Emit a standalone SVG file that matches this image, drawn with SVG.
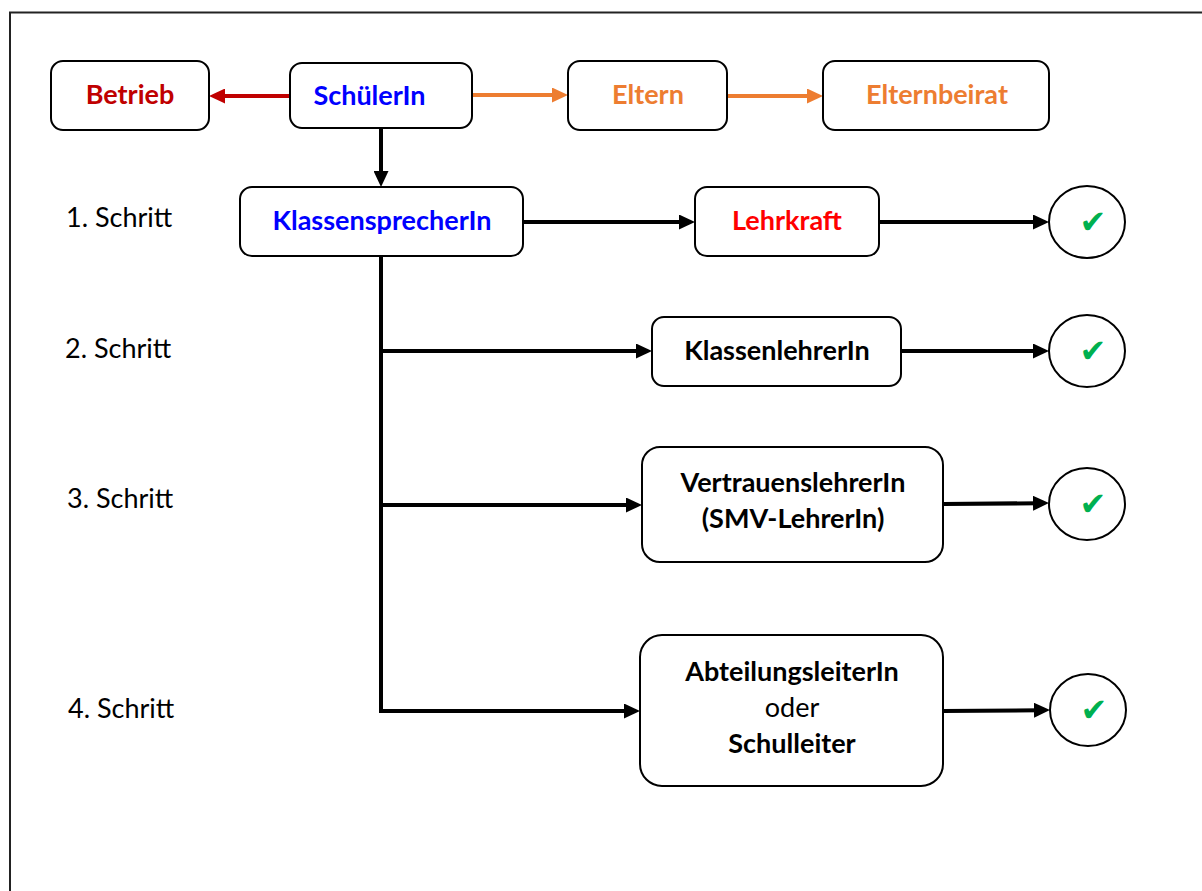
<svg xmlns="http://www.w3.org/2000/svg" width="1202" height="891" viewBox="0 0 1202 891">
<style>
.box{fill:#fff;stroke:#000;stroke-width:2}
.lbl{font-family:Lato,"Open Sans","Liberation Sans",sans-serif;font-size:27px;font-weight:bold;text-anchor:middle}
.reg{font-family:Lato,"Open Sans","Liberation Sans",sans-serif;font-size:27px;font-weight:normal}
.step{font-family:Lato,"Open Sans","Liberation Sans",sans-serif;font-size:27px;fill:#000}
.ok{fill:#fff;stroke:#000;stroke-width:2}
.chk{font-family:"DejaVu Sans",sans-serif;font-size:32px;fill:#00B050;text-anchor:middle}
.c{fill:none;stroke:#000;stroke-width:4}
.cr{fill:none;stroke:#C00000;stroke-width:4}
.co{fill:none;stroke:#ED7D31;stroke-width:4}
</style>
<defs>
<marker id="ah" markerUnits="userSpaceOnUse" markerWidth="16" markerHeight="15" refX="6" refY="7.5" orient="auto"><path d="M0,0 L16,7.5 L0,15 z" fill="#000"/></marker>
<marker id="ahr" markerUnits="userSpaceOnUse" markerWidth="16" markerHeight="15" refX="6" refY="7.5" orient="auto"><path d="M0,0 L16,7.5 L0,15 z" fill="#C00000"/></marker>
<marker id="aho" markerUnits="userSpaceOnUse" markerWidth="16" markerHeight="15" refX="6" refY="7.5" orient="auto"><path d="M0,0 L16,7.5 L0,15 z" fill="#ED7D31"/></marker>
</defs>
<rect x="0" y="0" width="1202" height="891" fill="#fff"/>
<rect x="10" y="12.5" width="1205" height="900" fill="none" stroke="#222" stroke-width="2"/>

<g id="connectors">
<line class="cr" x1="290" y1="96" x2="219" y2="96" marker-end="url(#ahr)"/>
<line class="co" x1="472" y1="95" x2="558" y2="95" marker-end="url(#aho)"/>
<line class="co" x1="727" y1="96" x2="813" y2="96" marker-end="url(#aho)"/>
<line class="c" x1="381" y1="128" x2="381" y2="177" marker-end="url(#ah)"/>
<line class="c" x1="523" y1="222" x2="685" y2="222" marker-end="url(#ah)"/>
<line class="c" x1="879" y1="222" x2="1039" y2="222" marker-end="url(#ah)"/>
<polyline class="c" points="381,256 381,713"/>
<line class="c" x1="381" y1="351" x2="642" y2="351" marker-end="url(#ah)"/>
<line class="c" x1="901" y1="351" x2="1039" y2="351" marker-end="url(#ah)"/>
<line class="c" x1="381" y1="505" x2="632" y2="505" marker-end="url(#ah)"/>
<line class="c" x1="943" y1="504" x2="1039" y2="503.2" marker-end="url(#ah)"/>
<line class="c" x1="379" y1="711" x2="630" y2="711" marker-end="url(#ah)"/>
<line class="c" x1="943" y1="711" x2="1040" y2="710.2" marker-end="url(#ah)"/>
</g>

<g id="step-labels">
<text class="step" x="66" y="227">1. Schritt</text>
<text class="step" x="65" y="358">2. Schritt</text>
<text class="step" x="67" y="508">3. Schritt</text>
<text class="step" x="68" y="718">4. Schritt</text>
</g>

<g id="betrieb"><rect class="box" x="51" y="61" width="158" height="69" rx="12"/><text class="lbl" x="130" y="104" fill="#C00000">Betrieb</text></g>
<g id="schueler"><rect class="box" x="290" y="63" width="182" height="65" rx="12"/><text class="lbl" x="369.5" y="105" fill="#0000FF">SchülerIn</text></g>
<g id="eltern"><rect class="box" x="568" y="61" width="159" height="69" rx="12"/><text class="lbl" x="648" y="104" fill="#ED7D31">Eltern</text></g>
<g id="elternbeirat"><rect class="box" x="823" y="61" width="226" height="69" rx="12"/><text class="lbl" x="937" y="104" fill="#ED7D31">Elternbeirat</text></g>
<g id="klassensprecher"><rect class="box" x="240" y="187" width="283" height="69" rx="12"/><text class="lbl" x="382" y="230" fill="#0000FF">KlassensprecherIn</text></g>
<g id="lehrkraft"><rect class="box" x="695" y="187" width="184" height="69" rx="12"/><text class="lbl" x="787" y="230" fill="#FF0000">Lehrkraft</text></g>
<g id="ok1"><ellipse class="ok" cx="1087" cy="222" rx="38" ry="36"/><text class="chk" x="1093" y="233">✔</text></g>
<g id="klassenlehrer"><rect class="box" x="652" y="317" width="249" height="69" rx="12"/><text class="lbl" x="777" y="360" fill="#000">KlassenlehrerIn</text></g>
<g id="ok2"><ellipse class="ok" cx="1087" cy="351" rx="38" ry="36"/><text class="chk" x="1093" y="362">✔</text></g>
<g id="vertrauenslehrer"><rect class="box" x="642" y="447" width="301" height="115" rx="18"/><text class="lbl" x="793" y="492" fill="#000">VertrauenslehrerIn</text><text class="lbl" x="793" y="528" fill="#000">(SMV-LehrerIn)</text></g>
<g id="ok3"><ellipse class="ok" cx="1087" cy="504" rx="38" ry="36"/><text class="chk" x="1093" y="515">✔</text></g>
<g id="abteilungsleiter"><rect class="box" x="640" y="635" width="303" height="151" rx="22"/><text class="lbl" x="792" y="681" fill="#000">AbteilungsleiterIn</text><text class="lbl reg" x="792" y="717" fill="#000">oder</text><text class="lbl" x="792" y="753" fill="#000">Schulleiter</text></g>
<g id="ok4"><ellipse class="ok" cx="1088" cy="710" rx="38" ry="36"/><text class="chk" x="1094" y="721">✔</text></g>
</svg>
